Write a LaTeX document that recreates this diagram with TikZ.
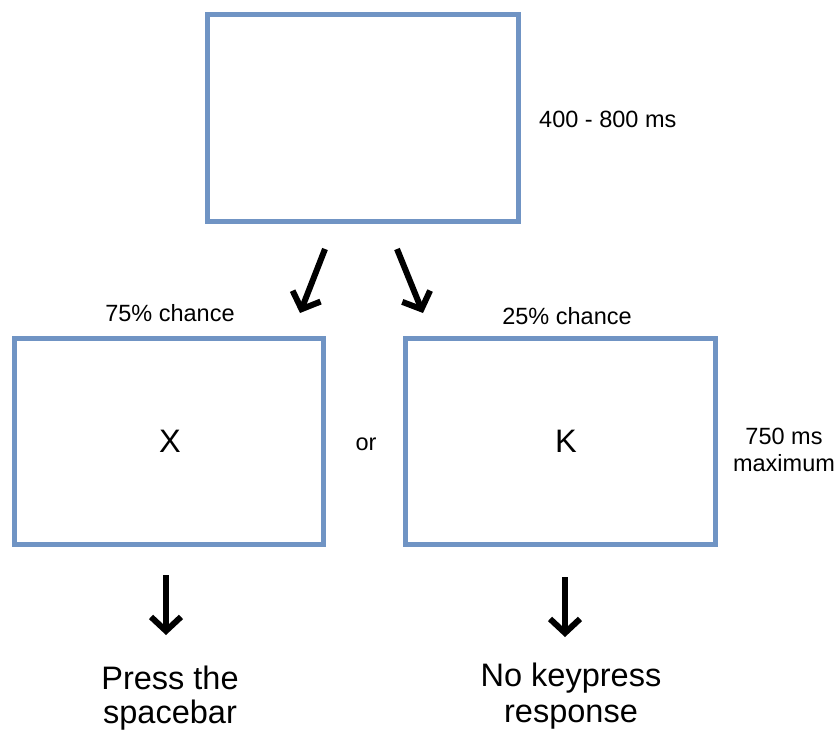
\documentclass[tikz,border=0pt]{standalone}
\usepackage{fontspec}
\setmainfont{Liberation Sans}
\usetikzlibrary{arrows.meta}
\definecolor{boxblue}{HTML}{7094C4}
\tikzset{
  screen/.style={draw=boxblue, line width=5pt, fill=white},
  small/.style={font=\fontsize{23.5}{28}\selectfont, inner sep=0pt},
  big/.style={font=\fontsize{32.5}{38}\selectfont, inner sep=0pt},
  arr/.style={line width=6pt, -{Straight Barb[length=14pt,width=30pt,line width=6pt]}}
}
\begin{document}
\begin{tikzpicture}[x=1pt,y=-1pt]
\useasboundingbox (0,0) rectangle (835,729);
\fill[white] (0,0) rectangle (835,729);
% boxes
\draw[screen] (207,14) rectangle (518,221);
\draw[screen] (14,338) rectangle (323,544);
\draw[screen] (405,338) rectangle (715,544);
% texts
\node[small, anchor=base west] (t1) at (539,127) {400 - 800 ms};
\node[small, anchor=base] (c75) at (170,321) {75\% chance};
\node[small, anchor=base] (c25) at (567,324) {25\% chance};
\node[big, anchor=base] (X) at (170,452) {X};
\node[small, anchor=base] (or) at (366,450) {or};
\node[big, anchor=base] (K) at (566,452) {K};
\node[small, anchor=base] (ms) at (784,444) {750 ms};
\node[small, anchor=base] (max) at (784,471) {maximum};
\node[big, anchor=base] (p1) at (170,689) {Press the};
\node[big, anchor=base] (p2) at (170,723) {spacebar};
\node[big, anchor=base] (n1) at (571,686) {No keypress};
\node[big, anchor=base] (n2) at (571,722) {response};
% arrows
\coordinate (a1s) at (325,249);
\coordinate (a1e) at (300,313);
\coordinate (a2s) at (397,249);
\coordinate (a2e) at (423,313);
\coordinate (a3s) at (166,575);
\coordinate (a3e) at (166,635);
\coordinate (a4s) at (565,577);
\coordinate (a4e) at (565,637);
\draw[arr] (a1s) -- (a1e);
\draw[arr] (a2s) -- (a2e);
\draw[arr] (a3s) -- (a3e);
\draw[arr] (a4s) -- (a4e);
\end{tikzpicture}
\end{document}
